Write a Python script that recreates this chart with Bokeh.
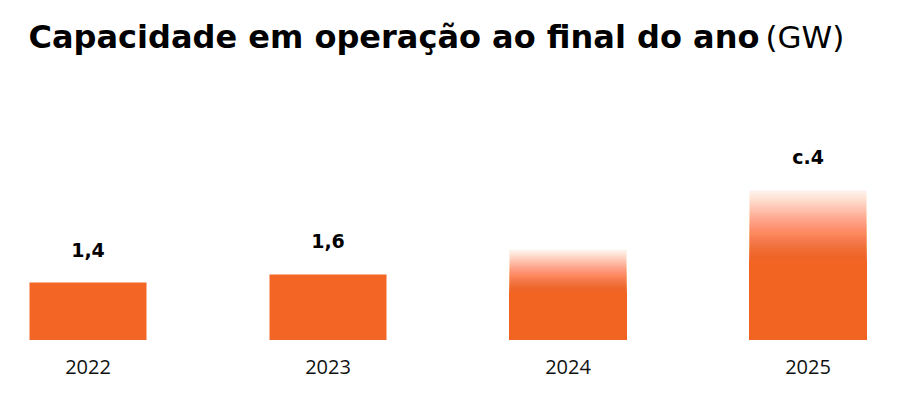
from bokeh.plotting import figure
from bokeh.models import Range1d, Label, ColumnDataSource
from bokeh.core.properties import value
from bokeh.embed import file_html
from bokeh.resources import INLINE

# ---- data ----
categories = ["2022", "2023", "2024", "2025"]
values = [1.4, 1.6, 2.2, 3.65]          # GW (2024/2025)
value_labels = ["1,4", "1,6", "", "c.4"]
projected = [False, False, True, True]
title_bold = "Capacidade em operação ao final do ano"
title_unit = "(GW)"

# ---- style / layout ----
ORANGE = "#F26524"
W, H = 892, 397
px_per_gw = 41.0
base_from_top = 339.5
base_px = H - base_from_top
unit_px = 240.0
first_center_px = 87.5
bar_w = 117.0 / unit_px
fade_frac = 0.48
n_slices = 80

x_start = 0.5 - first_center_px / unit_px
y_start = -base_px / px_per_gw

p = figure(width=W, height=H, output_backend="svg", toolbar_location=None,
           x_range=Range1d(x_start, x_start + W / unit_px),
           y_range=Range1d(y_start, y_start + H / px_per_gw),
           x_axis_location=None, y_axis_location=None,
           min_border=0, tools="")
p.outline_line_color = None
p.grid.visible = False
p.background_fill_color = "white"
p.border_fill_color = "white"

xs = [i + 0.5 for i in range(len(categories))]

# solid (actual) bars
solid = ColumnDataSource(dict(
    x=[x for x, pr in zip(xs, projected) if not pr],
    top=[v for v, pr in zip(values, projected) if not pr]))
p.vbar(x="x", top="top", bottom=0, width=bar_w, source=solid,
       fill_color=ORANGE, line_color=None)

# projected bars: nested quads (all starting at 0) so opacity fades smoothly to the top
L, R, B, T, A = [], [], [], [], []
for x, v, pr in zip(xs, values, projected):
    if not pr:
        continue
    fs = v * (1 - fade_frac)
    L.append(x - bar_w / 2); R.append(x + bar_w / 2); B.append(0); T.append(fs); A.append(1.0)
    prev_keep = 1.0  # 1 - opacity above current slice
    for j in range(n_slices):
        u = 1 - j / n_slices          # position of slice top (1 = bar top)
        target = 1 - 0.92 * u ** 1.25  # desired opacity just below this top
        target = min(target, 0.999)
        keep = 1 - target
        a = 1 - keep / prev_keep
        prev_keep = keep
        top = fs + (v - fs) * u
        L.append(x - bar_w / 2); R.append(x + bar_w / 2); B.append(0); T.append(top); A.append(max(a, 0.0))
p.quad(left=L, right=R, bottom=B, top=T, fill_color=ORANGE, fill_alpha=A, line_color=None)

# value labels
lab = ColumnDataSource(dict(x=xs, y=values, t=value_labels))
p.text(x="x", y="y", text="t", source=lab, text_align="center", text_baseline="middle",
       y_offset=-33, text_font=value("DejaVu Sans"), text_font_style="bold",
       text_font_size="19px", text_color="black")

# category labels
cat = ColumnDataSource(dict(x=xs, y=[0] * len(xs), t=categories))
p.text(x="x", y="y", text="t", source=cat, text_align="center", text_baseline="middle",
       y_offset=27, text_font=value("Open Sans"), text_font_size="20px", text_color="#111111")

# title
p.add_layout(Label(x=28, y=H - 36, x_units="screen", y_units="screen", text=title_bold,
                   text_font="DejaVu Sans", text_font_style="bold", text_font_size="32px",
                   text_color="black", text_baseline="alphabetic"))
p.add_layout(Label(x=765, y=H - 36, x_units="screen", y_units="screen", text=title_unit,
                   text_font="DejaVu Sans", text_font_size="31px",
                   text_color="black", text_baseline="alphabetic"))

open("out.html", "w").write(file_html(p, INLINE))
